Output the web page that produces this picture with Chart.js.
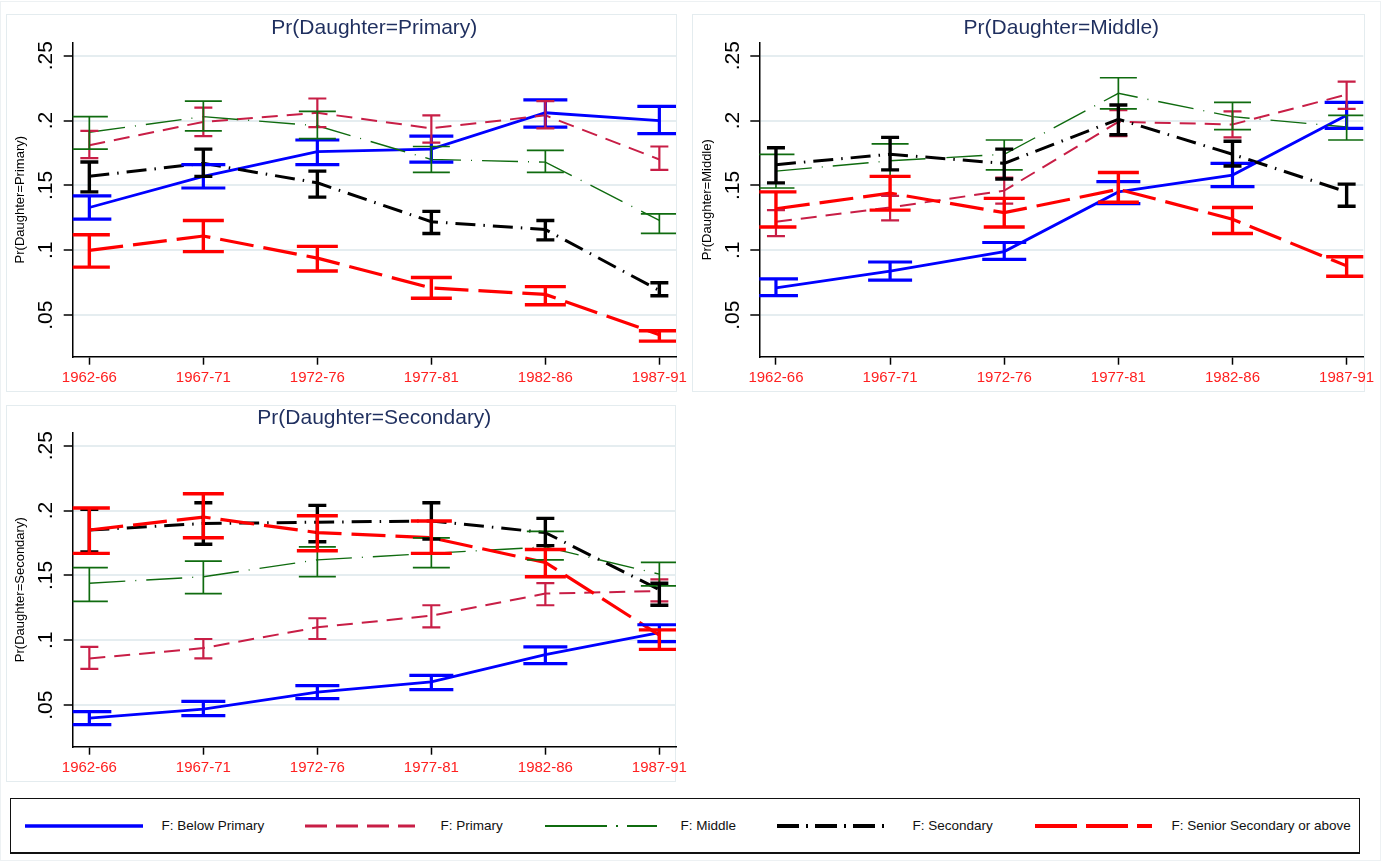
<!DOCTYPE html>
<html>
<head>
<meta charset="utf-8">
<script src="https://cdn.jsdelivr.net/npm/chart.js@4.4.1/dist/chart.umd.min.js"></script>
<style>
body { margin: 0; background: #fff; width: 1384px; height: 861px; overflow: hidden; position: relative;
       font-family: 'Liberation Sans', Arial, sans-serif; }
.frame { position: absolute; border: 1.5px solid #e4ecef; box-sizing: border-box; }
canvas { position: absolute; }
#legend { position: absolute; left: 10px; top: 798px; width: 1350px; height: 56px;
          border: 1.5px solid #111; border-bottom-width: 2px; box-sizing: border-box; }
#legend svg, #legend span { position: absolute; }
#legend span { font-size: 13.5px; color: #111; top: 19px; white-space: nowrap; }
</style>
</head>
<body>
<div class="frame" style="left:0;top:1px;width:1381px;height:860px;border-color:#edf1f3"></div>
<div class="frame" style="left:6px;top:14px;width:671px;height:378px"></div>
<div class="frame" style="left:692px;top:14px;width:673px;height:378px"></div>
<div class="frame" style="left:6px;top:405px;width:670px;height:377px"></div>
<canvas id="p1" width="690" height="376" style="left:7px;top:15px"></canvas>
<canvas id="p2" width="690" height="376" style="left:693px;top:15px"></canvas>
<canvas id="p3" width="690" height="376" style="left:7px;top:405px"></canvas>
<div id="legend"></div>

<script>
// ---- data ----
const periods = ["1962-66", "1967-71", "1972-76", "1977-81", "1982-86", "1987-91"];
const seriesNames = ["F: Below Primary", "F: Primary", "F: Middle", "F: Secondary", "F: Senior Secondary or above"];
const yTicks = [0.05, 0.1, 0.15, 0.2, 0.25];
const yTickLabels = [".05", ".1", ".15", ".2", ".25"];

// Pr(Daughter=Primary)
const primaryEst = [
    [0.133, 0.157, 0.176, 0.178, 0.206, 0.200],
    [0.181, 0.199, 0.206, 0.194, 0.204, 0.170],
    [0.191, 0.203, 0.196, 0.170, 0.168, 0.123],
    [0.157, 0.167, 0.152, 0.122, 0.116, 0.069],
    [0.100, 0.111, 0.094, 0.071, 0.066, 0.035]
];
const primaryLo = [
    [0.124, 0.148, 0.166, 0.168, 0.195, 0.190],
    [0.171, 0.188, 0.195, 0.183, 0.194, 0.162],
    [0.178, 0.192, 0.186, 0.160, 0.160, 0.113],
    [0.145, 0.157, 0.141, 0.113, 0.108, 0.065],
    [0.087, 0.099, 0.084, 0.063, 0.058, 0.030]
];
const primaryHi = [
    [0.142, 0.166, 0.185, 0.188, 0.216, 0.211],
    [0.192, 0.210, 0.217, 0.204, 0.215, 0.180],
    [0.203, 0.215, 0.207, 0.180, 0.177, 0.128],
    [0.168, 0.178, 0.161, 0.130, 0.123, 0.075],
    [0.112, 0.123, 0.103, 0.079, 0.072, 0.038]
];

// Pr(Daughter=Middle)
const middleEst = [
    [0.071, 0.084, 0.099, 0.145, 0.158, 0.204],
    [0.122, 0.133, 0.146, 0.199, 0.197, 0.220],
    [0.161, 0.169, 0.174, 0.221, 0.203, 0.195],
    [0.166, 0.174, 0.167, 0.201, 0.174, 0.145],
    [0.132, 0.144, 0.129, 0.147, 0.124, 0.088]
];
const middleLo = [
    [0.065, 0.077, 0.093, 0.136, 0.149, 0.194],
    [0.111, 0.123, 0.136, 0.188, 0.187, 0.209],
    [0.148, 0.157, 0.162, 0.209, 0.193, 0.185],
    [0.152, 0.162, 0.155, 0.189, 0.165, 0.134],
    [0.118, 0.131, 0.118, 0.137, 0.113, 0.080]
];
const middleHi = [
    [0.078, 0.091, 0.106, 0.153, 0.167, 0.214],
    [0.131, 0.142, 0.156, 0.208, 0.207, 0.230],
    [0.174, 0.182, 0.185, 0.233, 0.214, 0.204],
    [0.179, 0.187, 0.178, 0.212, 0.184, 0.151],
    [0.145, 0.157, 0.140, 0.160, 0.133, 0.095]
];

// Pr(Daughter=Secondary)
const secondaryEst = [
    [0.040, 0.047, 0.060, 0.068, 0.089, 0.106],
    [0.086, 0.094, 0.110, 0.119, 0.136, 0.138],
    [0.144, 0.149, 0.162, 0.167, 0.172, 0.151],
    [0.185, 0.190, 0.191, 0.192, 0.183, 0.139],
    [0.185, 0.195, 0.183, 0.179, 0.160, 0.104]
];
const secondaryLo = [
    [0.035, 0.042, 0.055, 0.062, 0.082, 0.099],
    [0.078, 0.086, 0.101, 0.110, 0.127, 0.130],
    [0.130, 0.136, 0.149, 0.156, 0.162, 0.142],
    [0.168, 0.174, 0.176, 0.178, 0.173, 0.127],
    [0.167, 0.179, 0.169, 0.167, 0.149, 0.093]
];
const secondaryHi = [
    [0.045, 0.053, 0.065, 0.073, 0.095, 0.112],
    [0.095, 0.101, 0.117, 0.127, 0.144, 0.147],
    [0.156, 0.161, 0.172, 0.179, 0.184, 0.160],
    [0.201, 0.206, 0.204, 0.206, 0.194, 0.144],
    [0.202, 0.213, 0.196, 0.192, 0.170, 0.108]
];

// ---- styles ----
const FONT = "'Liberation Sans', Arial, sans-serif";
const styles = [
    { color: "#0000ff", width: 2.8, dash: [],            cap: 44, capWidth: 3.2, legDash: "" },
    { color: "#c81e46", width: 2,   dash: [16, 9],       cap: 18, capWidth: 2.2, legDash: "22 9" },
    { color: "#0f6b0f", width: 1.4, dash: [36, 10, 1, 10], cap: 37, capWidth: 1.7, legDash: "62 9 2 9" },
    { color: "#000000", width: 3,   dash: [20, 8, 1.5, 8], cap: 18, capWidth: 3.4, legDash: "22 7 2 7" },
    { color: "#ff0000", width: 3.2, dash: [34, 10],      cap: 41, capWidth: 3.4, legDash: "42 9" }
];

// error bars (rcap) drawn through the chart's own scales
const ciPlugin = {
    id: "ci",
    afterDatasetsDraw(chart) {
        const { ctx, scales: { x, y }, chartArea: a } = chart;
        ctx.save();
        ctx.beginPath();
        ctx.rect(a.left, a.top, a.right - a.left, a.bottom - a.top);
        ctx.clip();
        chart.data.datasets.forEach(ds => {
            ctx.strokeStyle = ds.borderColor;
            ctx.lineWidth = ds.capWidth;
            ctx.setLineDash([]);
            ds.lo.forEach((lo, i) => {
                const px = x.getPixelForValue(i);
                const p1 = y.getPixelForValue(lo);
                const p2 = y.getPixelForValue(ds.hi[i]);
                const h = ds.capSize / 2;
                ctx.beginPath();
                ctx.moveTo(px, p1); ctx.lineTo(px, p2);
                ctx.moveTo(px - h, p1); ctx.lineTo(px + h, p1);
                ctx.moveTo(px - h, p2); ctx.lineTo(px + h, p2);
                ctx.stroke();
            });
        });
        ctx.restore();
    }
};

// panel title, rotated y tick labels and y title (Stata look)
const textPlugin = {
    id: "panelText",
    afterDraw(chart, args, opts) {
        const { ctx, chartArea: a, scales: { y } } = chart;
        ctx.save();
        ctx.fillStyle = "#1f2f5f";
        ctx.font = "21px " + FONT;
        ctx.textAlign = "center";
        ctx.textBaseline = "middle";
        ctx.fillText(opts.title, (a.left + a.right) / 2, 13);

        ctx.fillStyle = "#000";
        ctx.font = "21px " + FONT;
        ctx.textBaseline = "alphabetic";
        yTicks.forEach((v, i) => {
            ctx.save();
            ctx.translate(a.left - 20.5, y.getPixelForValue(v));
            ctx.rotate(-Math.PI / 2);
            ctx.fillText(yTickLabels[i], 0, 0);
            ctx.restore();
        });

        ctx.font = "13px " + FONT;
        ctx.textBaseline = "middle";
        ctx.translate(a.left - 52, (a.top + a.bottom) / 2);
        ctx.rotate(-Math.PI / 2);
        ctx.fillText(opts.yTitle, 0, 0);
        ctx.restore();
    }
};

function makePanel(id, title, est, lo, hi, yWidth, padRight) {
    const datasets = seriesNames.map((name, k) => ({
        label: name,
        data: est[k].map((v, i) => ({ x: i, y: v })),
        lo: lo[k],
        hi: hi[k],
        borderColor: styles[k].color,
        borderWidth: styles[k].width,
        borderDash: styles[k].dash,
        capSize: styles[k].cap,
        capWidth: styles[k].capWidth,
        order: 5 - k,
        pointRadius: 0,
        tension: 0,
        fill: false
    }));

    return new Chart(document.getElementById(id), {
        type: "line",
        data: { datasets },
        options: {
            responsive: false,
            animation: false,
            devicePixelRatio: 1,
            layout: { padding: { top: 27.7, right: padRight, left: 0, bottom: 0 } },
            plugins: {
                legend: { display: false },
                tooltip: { enabled: false },
                panelText: { title: title, yTitle: title }
            },
            scales: {
                x: {
                    type: "linear",
                    min: -0.146,
                    max: 5.146,
                    afterBuildTicks: s => { s.ticks = periods.map((p, i) => ({ value: i })); },
                    afterFit: s => { s.height = 34.3; },
                    ticks: {
                        callback: v => periods[v],
                        color: "#ff2020",
                        font: { size: 15, family: FONT },
                        padding: 4,
                        maxRotation: 0,
                        autoSkip: false
                    },
                    grid: { drawOnChartArea: false, drawTicks: true, tickLength: 8, tickColor: "#000", tickWidth: 1.5 },
                    border: { color: "#000", width: 1.5 }
                },
                y: {
                    min: 0.018,
                    max: 0.26,
                    afterBuildTicks: s => { s.ticks = yTicks.map(v => ({ value: v })); },
                    afterFit: s => { s.width = yWidth; },
                    ticks: { display: false },
                    grid: { color: "#e5edf0", lineWidth: 2, tickLength: 9, tickColor: "#000", tickWidth: 1.5 },
                    border: { color: "#000", width: 1.5 }
                }
            }
        },
        plugins: [ciPlugin, textPlugin]
    });
}

makePanel("p1", "Pr(Daughter=Primary)", primaryEst, primaryLo, primaryHi, 65.7, 21);
makePanel("p2", "Pr(Daughter=Middle)", middleEst, middleLo, middleHi, 66.3, 19.7);
makePanel("p3", "Pr(Daughter=Secondary)", secondaryEst, secondaryLo, secondaryHi, 65.7, 21);

// ---- legend ----
const legendPos = [[25, 143, 162], [305, 415, 441], [545, 657, 681], [777, 887, 913], [1035, 1152, 1172]];
const legend = document.getElementById("legend");
seriesNames.forEach((name, k) => {
    const [x1, x2, tx] = legendPos[k];
    const st = styles[k];
    const w = x2 - x1;
    const svgNS = "http://www.w3.org/2000/svg";
    const svg = document.createElementNS(svgNS, "svg");
    svg.setAttribute("width", w);
    svg.setAttribute("height", 10);
    svg.style.left = (x1 - 11.5) + "px";
    svg.style.top = "22px";
    const line = document.createElementNS(svgNS, "line");
    line.setAttribute("x1", 0); line.setAttribute("y1", 5);
    line.setAttribute("x2", w); line.setAttribute("y2", 5);
    line.setAttribute("stroke", st.color);
    line.setAttribute("stroke-width", Math.max(st.width + 0.8, 2));
    if (st.legDash) line.setAttribute("stroke-dasharray", st.legDash);
    svg.appendChild(line);
    legend.appendChild(svg);
    const span = document.createElement("span");
    span.textContent = name;
    span.style.left = (tx - 11.5) + "px";
    legend.appendChild(span);
});
</script>
</body>
</html>
